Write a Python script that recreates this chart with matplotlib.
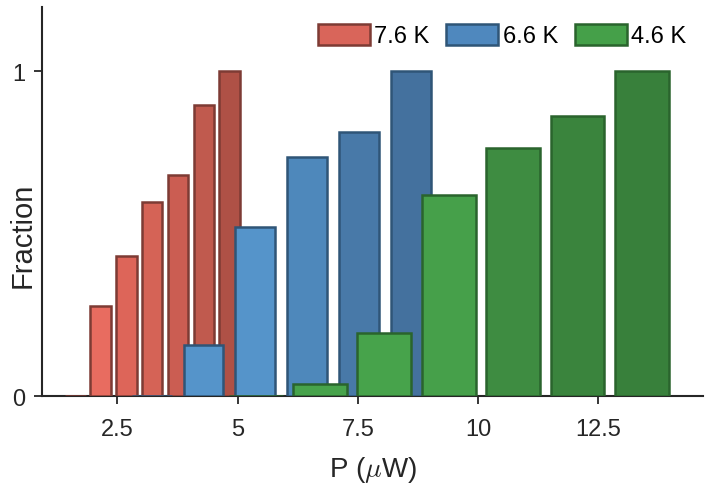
import numpy as np
import matplotlib
matplotlib.use("Agg")
import matplotlib.pyplot as plt
from matplotlib.patches import Patch

# ---- data ----
labels = ["7.6 K", "6.6 K", "4.6 K"]
red_x = [1.62, 2.15, 2.69, 3.22, 3.76, 4.30, 4.83]
red_y = [0.0, 0.278, 0.432, 0.596, 0.681, 0.896, 1.0]
blue_x = [3.22, 4.29, 5.37, 6.44, 7.52, 8.60]
blue_y = [0.0, 0.157, 0.521, 0.734, 0.811, 1.0]
green_x = [5.39, 6.72, 8.05, 9.39, 10.73, 12.07, 13.41]
green_y = [0.0, 0.037, 0.194, 0.618, 0.763, 0.861, 1.0]
xticks = [2.5, 5, 7.5, 10, 12.5]
xticklabels = ["2.5", "5", "7.5", "10", "12.5"]
yticks = [0, 1]
yticklabels = ["0", "1"]

# ---- styles ----
red_fc = ['#E86C60', '#E86C60', '#DD6559', '#D56356', '#CB5D52', '#C05A4E', '#AF5146']
blue_fc = ['#5594CA', '#5594CA', '#5594CA', '#4E88BB', '#4879A8', '#44719E']
green_fc = ['#47A34B', '#47A34B', '#47A34B', '#46A04A', '#3E8C41', '#3A843D', '#38803B']
red_ec, blue_ec, green_ec = '#7D3B34', '#2F5577', '#2A642D'
txt = '#262626'

plt.rcParams['font.family'] = ['Liberation Sans', 'DejaVu Sans']
plt.rcParams['mathtext.fontset'] = 'cm'

fig = plt.figure(figsize=(7.05, 4.89), dpi=100)
ax = fig.add_axes([42/705, 1-397/489, (703-42)/705, (397-8)/489])

ax.bar(red_x, red_y, width=0.43, color=red_fc, edgecolor=red_ec, linewidth=1.8, zorder=2)
ax.bar(blue_x, blue_y, width=0.83, color=blue_fc, edgecolor=blue_ec, linewidth=1.8, zorder=3)
ax.bar(green_x, green_y, width=1.12, color=green_fc, edgecolor=green_ec, linewidth=1.8, zorder=4)

ax.set_xlim(0.93, 14.68)
ax.set_ylim(0, 1.197)
ax.set_xticks(xticks)
ax.set_xticklabels(xticklabels)
ax.set_yticks(yticks)
ax.set_yticklabels(yticklabels)

for s in ['top', 'right']:
    ax.spines[s].set_visible(False)
for s in ['left', 'bottom']:
    ax.spines[s].set_color(txt)
    ax.spines[s].set_linewidth(1.5)
    ax.spines[s].set_zorder(1.5)
ax.tick_params(axis='both', direction='out', length=6, width=1.3, color=txt,
               labelsize=17, labelcolor=txt)
ax.tick_params(axis='x', pad=10)
ax.tick_params(axis='y', pad=6)

ax.set_xlabel(r'P ($\mu$W)', fontsize=20, color=txt, labelpad=10)
ax.set_ylabel('Fraction', fontsize=21, color=txt)
ax.yaxis.set_label_coords(-0.008, 0.415)

handles = [Patch(facecolor='#D9655A', edgecolor=red_ec, linewidth=1.8),
           Patch(facecolor='#4F88BE', edgecolor=blue_ec, linewidth=1.8),
           Patch(facecolor='#45A049', edgecolor=green_ec, linewidth=1.8)]
leg = ax.legend(handles, labels, ncol=3, loc='upper right', frameon=False,
                fontsize=17, handlelength=2.2, handleheight=1.0, handletextpad=0.2,
                columnspacing=0.7, bbox_to_anchor=(1.0, 1.0), borderaxespad=0.3)
for t in leg.get_texts():
    t.set_color('black')

fig.savefig('out.png', dpi=100)
